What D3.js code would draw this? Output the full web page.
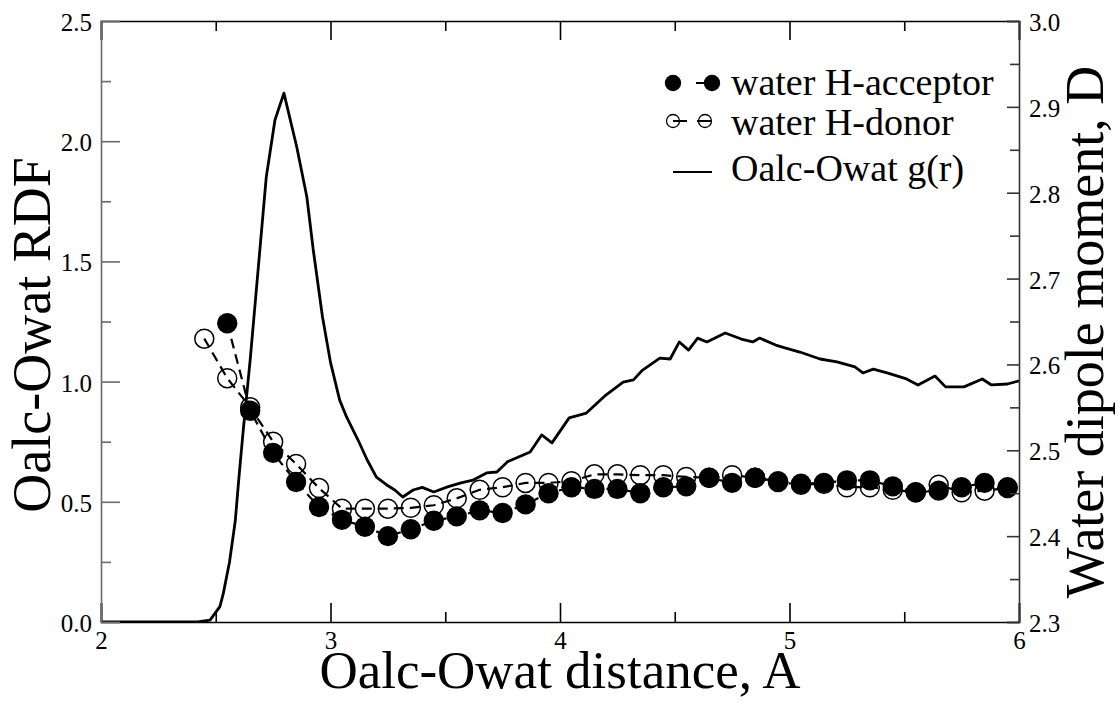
<!DOCTYPE html>
<html><head><meta charset="utf-8">
<script src="https://cdn.jsdelivr.net/npm/d3@7"></script>
<style>
html,body{margin:0;padding:0;background:#fff;}
svg{display:block;}
svg text{font-family:"Liberation Serif","Times New Roman",serif !important;fill:#000;}
</style></head>
<body>
<svg id="chart" width="1119" height="702"></svg>
<script>
// ---- data ----
const xTicksMajor = [2, 3, 4, 5, 6];
const xTicksMinor = [2.5, 3.5, 4.5, 5.5];
const yLeftTicksMajor = [0, 0.5, 1.0, 1.5, 2.0, 2.5];
const yLeftTicksMinor = [0.25, 0.75, 1.25, 1.75, 2.25];
const yRightTicksMajor = [2.3, 2.4, 2.5, 2.6, 2.7, 2.8, 2.9, 3.0];
const yRightTicksMinor = [2.35, 2.45, 2.55, 2.65, 2.75, 2.85, 2.95];

const accX = [2.55,2.65,2.75,2.85,2.95,3.05,3.15,3.25,3.35,3.45,3.55,3.65,3.75,3.85,3.95,4.05,4.15,4.25,4.35,4.45,4.55,4.65,4.75,4.85,4.95,5.05,5.15,5.25,5.35,5.45,5.55,5.65,5.75,5.85,5.95];
const accY = [2.648,2.546,2.497,2.463,2.434,2.419,2.411,2.400,2.408,2.418,2.423,2.430,2.427,2.437,2.450,2.457,2.455,2.455,2.450,2.457,2.458,2.468,2.462,2.468,2.464,2.461,2.462,2.465,2.465,2.458,2.451,2.453,2.457,2.462,2.457];

const donX = [2.45,2.55,2.65,2.75,2.85,2.95,3.05,3.15,3.25,3.35,3.45,3.55,3.65,3.75,3.85,3.95,4.05,4.15,4.25,4.35,4.45,4.55,4.65,4.75,4.85,4.95,5.05,5.15,5.25,5.35,5.45,5.55,5.65,5.75,5.85,5.95];
const donY = [2.630,2.584,2.550,2.510,2.484,2.456,2.432,2.432,2.432,2.433,2.436,2.444,2.454,2.457,2.462,2.462,2.464,2.472,2.472,2.471,2.471,2.469,2.468,2.471,2.468,2.463,2.460,2.461,2.457,2.457,2.454,2.451,2.460,2.451,2.453,2.456];

const gX = [2.00,2.42,2.475,2.518,2.533,2.56,2.585,2.60,2.62,2.65,2.72,2.758,2.797,2.853,2.897,2.925,2.965,3.00,3.04,3.07,3.12,3.16,3.20,3.245,3.28,3.315,3.36,3.40,3.45,3.51,3.565,3.62,3.68,3.725,3.77,3.87,3.92,3.965,4.04,4.115,4.20,4.275,4.32,4.36,4.435,4.48,4.52,4.56,4.60,4.64,4.72,4.79,4.84,4.87,4.94,4.98,5.045,5.133,5.207,5.285,5.32,5.365,5.425,5.51,5.56,5.634,5.68,5.76,5.84,5.88,5.95,6.00];
const gY = [0,0,0.008,0.064,0.119,0.25,0.42,0.59,0.80,1.09,1.85,2.088,2.20,1.976,1.768,1.547,1.27,1.08,0.923,0.853,0.757,0.674,0.603,0.570,0.549,0.520,0.549,0.560,0.541,0.562,0.578,0.590,0.620,0.624,0.666,0.707,0.778,0.745,0.849,0.869,0.944,0.998,1.007,1.048,1.098,1.094,1.165,1.131,1.181,1.165,1.202,1.177,1.165,1.181,1.152,1.140,1.123,1.094,1.082,1.061,1.036,1.052,1.036,1.011,0.986,1.023,0.978,0.978,1.011,0.986,0.990,1.003];

const legendLabels = ["water H-acceptor", "water H-donor", "Oalc-Owat g(r)"];
const xTitle = "Oalc-Owat distance, A";
const yLeftTitle = "Oalc-Owat RDF";
const yRightTitle = "Water dipole moment, D";

// ---- layout ----
const FONT = '"Liberation Serif","Times New Roman",serif';
const L = 101, R = 1019, T = 21, B = 622;
const svg = d3.select("#chart");
const x = d3.scaleLinear().domain([2, 6]).range([L, R]);
const yL = d3.scaleLinear().domain([0, 2.5]).range([B, T]);
const yR = d3.scaleLinear().domain([2.3, 3.0]).range([B, T]);

svg.append("defs").append("clipPath").attr("id","clip")
  .append("rect").attr("x",L).attr("y",T).attr("width",R-L).attr("height",B-T);

const plot = svg.append("g").attr("clip-path","url(#clip)");

// g(r) curve
const gData = gX.map((v,i)=>[v,gY[i]]);
plot.append("path").datum(gData)
  .attr("fill","none").attr("stroke","#000").attr("stroke-width",2.8)
  .attr("stroke-linejoin","round")
  .attr("d", d3.line().x(d=>x(d[0])).y(d=>yL(d[1])));

// donor
const donData = donX.map((v,i)=>[v,donY[i]]);
const lineR = d3.line().x(d=>x(d[0])).y(d=>yR(d[1]));
plot.append("path").datum(donData)
  .attr("fill","none").attr("stroke","#000").attr("stroke-width",2.2)
  .attr("stroke-dasharray","10,6").attr("d", lineR);
plot.selectAll("circle.don").data(donData).enter().append("circle")
  .attr("class","don").attr("cx",d=>x(d[0])).attr("cy",d=>yR(d[1])).attr("r",9.5)
  .attr("fill","none").attr("stroke","#000").attr("stroke-width",1.5);

// acceptor
const accData = accX.map((v,i)=>[v,accY[i]]);
plot.append("path").datum(accData)
  .attr("fill","none").attr("stroke","#000").attr("stroke-width",2.2)
  .attr("stroke-dasharray","10,6").attr("d", lineR);
plot.selectAll("circle.acc").data(accData).enter().append("circle")
  .attr("class","acc").attr("cx",d=>x(d[0])).attr("cy",d=>yR(d[1])).attr("r",10.2)
  .attr("fill","#000");

// ---- axes ----
function styleAxis(g, color, fontSize){
  g.attr("font-family", FONT).attr("font-size", fontSize);
  g.select(".domain").attr("stroke",color).attr("stroke-width",1.6);
  g.selectAll(".tick line").attr("stroke",color).attr("stroke-width",1.6);
  g.selectAll(".tick text").attr("font-family", FONT).attr("font-size", fontSize).attr("fill","#222");
}
// bottom
const gb = svg.append("g").attr("transform",`translate(0,${B})`)
  .call(d3.axisBottom(x).tickValues(xTicksMajor).tickSize(-19).tickPadding(9).tickFormat(d3.format("d")));
styleAxis(gb,"#000",25);
gb.selectAll(".tick text").attr("dy","0.71em");
const gbm = svg.append("g").attr("transform",`translate(0,${B})`)
  .call(d3.axisBottom(x).tickValues(xTicksMinor).tickSize(-10).tickFormat(""));
styleAxis(gbm,"#000",25); gbm.select(".domain").remove();
// top
const gt = svg.append("g").attr("transform",`translate(0,${T})`)
  .call(d3.axisTop(x).tickValues(xTicksMajor).tickSize(-19).tickFormat(""));
styleAxis(gt,"#000",25);
const gtm = svg.append("g").attr("transform",`translate(0,${T})`)
  .call(d3.axisTop(x).tickValues(xTicksMinor).tickSize(-10).tickFormat(""));
styleAxis(gtm,"#000",25); gtm.select(".domain").remove();
// left
const gl = svg.append("g").attr("transform",`translate(${L},0)`)
  .call(d3.axisLeft(yL).tickValues(yLeftTicksMajor).tickSize(-19).tickPadding(9).tickFormat(d3.format(".1f")));
styleAxis(gl,"#6a6a6a",25);
gl.selectAll(".tick text").attr("dy","0.38em");
const glm = svg.append("g").attr("transform",`translate(${L},0)`)
  .call(d3.axisLeft(yL).tickValues(yLeftTicksMinor).tickSize(-10).tickFormat(""));
styleAxis(glm,"#6a6a6a",25); glm.select(".domain").remove();
// right
const gr = svg.append("g").attr("transform",`translate(${R},0)`)
  .call(d3.axisRight(yR).tickValues(yRightTicksMajor).tickSize(-12).tickPadding(10).tickFormat(d3.format(".1f")));
styleAxis(gr,"#333",25);
gr.selectAll(".tick text").attr("dy","0.38em");
const grm = svg.append("g").attr("transform",`translate(${R},0)`)
  .call(d3.axisRight(yR).tickValues(yRightTicksMinor).tickSize(-9).tickFormat(""));
styleAxis(grm,"#333",25); grm.select(".domain").remove();

// ---- titles ----
svg.append("text").attr("x",(L+R)/2).attr("y",688).attr("text-anchor","middle")
  .attr("font-family",FONT).style("font-size","53px").text(xTitle);
svg.append("text").attr("transform",`translate(50,335) rotate(-90)`).attr("text-anchor","middle")
  .attr("font-family",FONT).style("font-size","54px").text(yLeftTitle);
svg.append("text").attr("transform",`translate(1103,332) rotate(-90)`).attr("text-anchor","middle")
  .attr("font-family",FONT).style("font-size","54px").text(yRightTitle);

// ---- legend ----
const lg = svg.append("g");
const lx1 = 673, textX = 731;
const rows = [{y:83, base:95}, {y:121, base:135}, {y:172, base:181}];
// acceptor
lg.append("line").attr("x1",lx1).attr("x2",712).attr("y1",rows[0].y).attr("y2",rows[0].y)
  .attr("stroke","#000").attr("stroke-width",2).attr("stroke-dasharray","8,15");
[lx1,712].forEach(cx=>lg.append("circle").attr("cx",cx).attr("cy",rows[0].y).attr("r",8.2).attr("fill","#000"));
// donor
lg.append("line").attr("x1",lx1).attr("x2",711).attr("y1",rows[1].y).attr("y2",rows[1].y)
  .attr("stroke","#000").attr("stroke-width",1.8).attr("stroke-dasharray","14,10");
[lx1,705].forEach(cx=>lg.append("circle").attr("cx",cx).attr("cy",rows[1].y).attr("r",6.5)
  .attr("fill","none").attr("stroke","#000").attr("stroke-width",1.3));
// g(r)
lg.append("line").attr("x1",lx1).attr("x2",712).attr("y1",rows[2].y).attr("y2",rows[2].y)
  .attr("stroke","#000").attr("stroke-width",2);
legendLabels.forEach((t,i)=>{
  lg.append("text").attr("x",textX).attr("y",rows[i].base)
    .attr("font-family",FONT).style("font-size","38px").text(t);
});
</script>
</body></html>
